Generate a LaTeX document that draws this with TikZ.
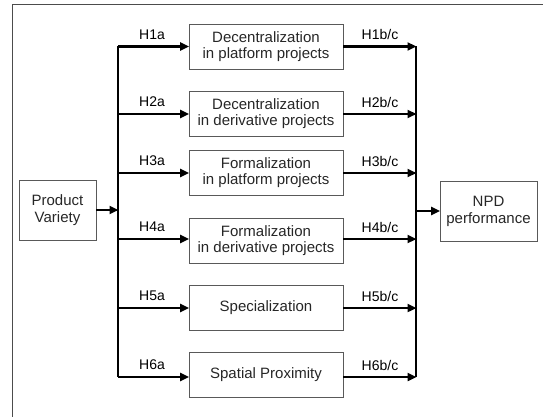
\documentclass[tikz,border=0pt]{standalone}
\usepackage{fontspec}
\setmainfont{Liberation Sans}
\usetikzlibrary{arrows.meta}
\begin{document}
\begin{tikzpicture}[x=1pt,y=-1pt,
  box/.style={draw=black!65, line width=0.9pt, minimum width=154pt, minimum height=45pt, align=center, font=\fontsize{15}{16.5}\selectfont, text=black!85, inner sep=0pt},
  sidebox/.style={draw=black!65, line width=0.9pt, align=center, font=\fontsize{15}{17}\selectfont, text=black!85, inner sep=0pt},
  arr/.style={line width=2.6pt, -{Triangle[length=9pt,width=8pt]}, shorten >=-0.5pt},
  bus/.style={line width=1.3pt},
  lab/.style={font=\fontsize{14}{16}\selectfont, inner sep=0pt}]
\useasboundingbox (0,0) rectangle (543,417);
\draw[black!70, line width=1.5pt] (12.5,418) -- (12.5,4.5) -- (544,4.5);
% boxes
\node[box] (b1) at (266,46.5) {Decentralization\\in platform projects};
\node[box] (b2) at (266,113.5) {Decentralization\\in derivative projects};
\node[box] (b3) at (266,172.5) {Formalization\\in platform projects};
\node[box] (b4) at (266,240.5) {Formalization\\in derivative projects};
\node[box] (b5) at (266,307.5) {Specialization};
\node[box] (b6) at (266,374.5) {Spatial Proximity};
\node[sidebox, minimum width=77pt, minimum height=60pt] (pv) at (57.5,210) {Product\\Variety};
\node[sidebox, minimum width=97pt, minimum height=60pt] (npd) at (488.5,211) {NPD\\performance};
% bus coordinates
\coordinate (lt) at (118,46.5);
\coordinate (lb) at (118,377);
\coordinate (rt) at (416,46.5);
\coordinate (rb) at (416,377);
\draw[bus] (lt) -- (lb);
\draw[bus] (rt) -- (rb);
% arrows
\foreach \i/\y in {1/46.5,2/114,3/173,4/239,5/308,6/377}{
  \coordinate (l\i) at (118,\y);
  \coordinate (r\i) at (416,\y);
  \draw[arr] (l\i) -- (b\i.west |- l\i);
  \draw[arr] (b\i.east |- l\i) -- (r\i);
  \node[lab] at (152,\y-12) {H\i a};
  \node[lab] at (380,\y-12) {H\i b/c};
}
\coordinate (pvin) at (118,210);
\coordinate (npdout) at (416,211);
\draw[arr] (pv.east) -- (pvin);
\draw[arr] (npdout) -- (npd.west);
\end{tikzpicture}
\end{document}
